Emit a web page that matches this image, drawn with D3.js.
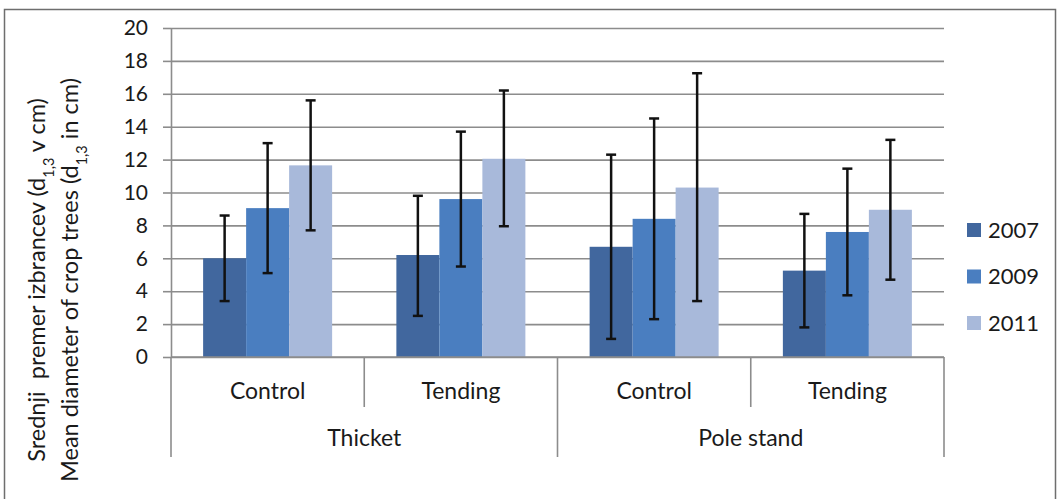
<!DOCTYPE html>
<html>
<head>
<meta charset="utf-8">
<script src="https://cdn.jsdelivr.net/npm/d3@7"></script>
<style>
  body { margin: 0; background: #fff; }
  text { font-family: Lato, "Open Sans", sans-serif; fill: #1a1a1a; }
</style>
</head>
<body>
<div id="chart"></div>
<script>
// data
var categories = ["Control", "Tending", "Control", "Tending"];
var groups = ["Thicket", "Pole stand"];
var years = ["2007", "2009", "2011"];
var means = [
    [6.0, 6.2, 6.7, 5.25],
    [9.05, 9.6, 8.4, 7.6],
    [11.65, 12.05, 10.3, 8.95]
];
var lower = [
    [3.4, 2.5, 1.1, 1.8],
    [5.1, 5.5, 2.3, 3.75],
    [7.7, 7.95, 3.4, 4.7]
];
var upper = [
    [8.6, 9.8, 12.3, 8.7],
    [13.0, 13.7, 14.5, 11.45],
    [15.6, 16.2, 17.25, 13.2]
];
var yTicks = [0, 2, 4, 6, 8, 10, 12, 14, 16, 18, 20];
var colors = ["#41679e", "#4a7ec0", "#a8b9da"];

var svgWidth = 1058, svgHeight = 499;
var margin = { top: 28, left: 171, right: 114, bottom: 142 };
var width = svgWidth - margin.left - margin.right;
var height = svgHeight - margin.top - margin.bottom;

var svg = d3.select("#chart").append("svg")
    .attr("width", svgWidth)
    .attr("height", svgHeight);

// frame (bottom edge is cut off in the picture)
svg.append("path")
    .attr("d", "M4.5,499V9.5H1055.5V499")
    .attr("fill", "none")
    .attr("stroke", "#6e6e6e")
    .attr("stroke-width", 1.5);

var g = svg.append("g").attr("transform", "translate(" + margin.left + "," + margin.top + ")");

var x = d3.scaleBand().domain(d3.range(categories.length)).range([0, width]).padding(0);
var xs = d3.scaleBand().domain(years).range([0, x.bandwidth()]).paddingInner(0).paddingOuter(0.747);
var y = d3.scaleLinear().domain([0, 20]).range([height, 0]);

// gridlines
g.append("g")
    .attr("class", "grid")
    .call(d3.axisLeft(y).tickValues(yTicks).tickSize(-width).tickFormat(""))
    .call(function (s) {
        s.select(".domain").remove();
        s.selectAll("line").attr("stroke", "#8c8c8c").attr("stroke-width", 1.6);
    });

// y axis
g.append("g")
    .call(d3.axisLeft(y).tickValues(yTicks).tickSize(8).tickPadding(15).tickSizeOuter(0))
    .call(function (s) {
        s.select(".domain").attr("stroke", "#8c8c8c").attr("stroke-width", 1.6);
        s.selectAll("line").attr("stroke", "#8c8c8c").attr("stroke-width", 1.6);
        s.selectAll("text").style("font-size", "21px").attr("fill", "#1a1a1a")
            .style("font-family", "Lato, sans-serif");
    });

// bars
var series = g.selectAll(".series")
    .data(years)
    .enter().append("g")
    .attr("class", "series")
    .attr("fill", function (d, i) { return colors[i]; });

series.selectAll("rect")
    .data(function (d, i) { return means[i].map(function (v, j) { return { year: d, cat: j, v: v }; }); })
    .enter().append("rect")
    .attr("x", function (d) { return x(d.cat) + xs(d.year); })
    .attr("width", xs.bandwidth())
    .attr("y", function (d) { return y(d.v); })
    .attr("height", function (d) { return y(0) - y(d.v); });

// error bars
var errs = [];
years.forEach(function (yr, i) {
    categories.forEach(function (c, j) {
        errs.push({ cx: x(j) + xs(yr) + xs.bandwidth() / 2, lo: lower[i][j], hi: upper[i][j] });
    });
});
var eb = g.selectAll(".err").data(errs).enter().append("g")
    .attr("class", "err")
    .attr("stroke", "#111")
    .attr("stroke-width", 2.5);
eb.append("line")
    .attr("x1", function (d) { return d.cx; }).attr("x2", function (d) { return d.cx; })
    .attr("y1", function (d) { return y(d.lo); }).attr("y2", function (d) { return y(d.hi); });
eb.append("line")
    .attr("x1", function (d) { return d.cx - 5; }).attr("x2", function (d) { return d.cx + 5; })
    .attr("y1", function (d) { return y(d.lo); }).attr("y2", function (d) { return y(d.lo); });
eb.append("line")
    .attr("x1", function (d) { return d.cx - 5; }).attr("x2", function (d) { return d.cx + 5; })
    .attr("y1", function (d) { return y(d.hi); }).attr("y2", function (d) { return y(d.hi); });

// category axis (two tiers)
var ax = g.append("g").attr("stroke", "#8c8c8c").attr("stroke-width", 1.6);
ax.append("line").attr("x1", 0).attr("x2", width).attr("y1", y(0)).attr("y2", y(0));
d3.range(categories.length + 1).forEach(function (j) {
    var xx = j < categories.length ? x(j) : width;
    var outer = (j % 2 === 0);
    ax.append("line")
        .attr("x1", xx).attr("x2", xx)
        .attr("y1", y(0)).attr("y2", y(0) + (outer ? 100 : 50));
});

g.selectAll(".cat")
    .data(categories)
    .enter().append("text")
    .attr("class", "cat")
    .attr("x", function (d, j) { return x(j) + x.bandwidth() / 2; })
    .attr("y", y(0) + 34)
    .attr("dy", "0.35em")
    .attr("text-anchor", "middle")
    .style("font-size", "23px")
    .text(function (d) { return d; });

g.selectAll(".grp")
    .data(groups)
    .enter().append("text")
    .attr("class", "grp")
    .attr("x", function (d, k) { return x(k * 2) + x.bandwidth(); })
    .attr("y", y(0) + 81)
    .attr("dy", "0.35em")
    .attr("text-anchor", "middle")
    .style("font-size", "23px")
    .text(function (d) { return d; });

// y axis title, two lines with subscripts
var titles = [
    ["Srednji  premer izbrancev (d", "1,3", " v cm)"],
    ["Mean diameter of crop trees (d", "1,3", " in cm)"]
];
titles.forEach(function (t, i) {
    var tx = svg.append("text")
        .attr("transform", "translate(" + (45 + i * 33) + ",280) rotate(-90)")
        .attr("text-anchor", "middle")
        .style("font-size", "23.5px")
        .attr("xml:space", "preserve");
    tx.append("tspan").text(t[0]);
    tx.append("tspan").attr("baseline-shift", "sub").style("font-size", "14.5px").text(t[1]);
    tx.append("tspan").text(t[2]);
});

// legend
var legend = svg.append("g").attr("transform", "translate(967,230)");
years.forEach(function (yr, i) {
    var row = legend.append("g").attr("transform", "translate(0," + (i * 46.5) + ")");
    row.append("rect").attr("x", 0).attr("y", -7).attr("width", 14).attr("height", 14).attr("fill", colors[i]);
    row.append("text").attr("x", 21).attr("y", 0).attr("dy", "0.36em").style("font-size", "22px").text(yr);
});
</script>
</body>
</html>
